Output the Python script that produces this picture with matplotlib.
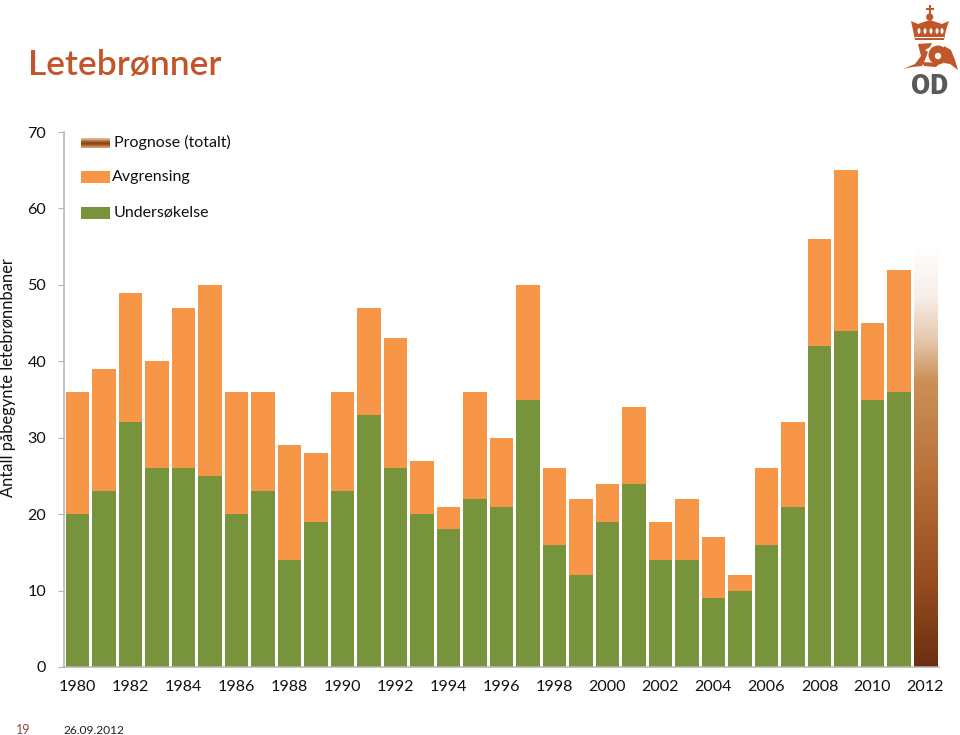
import numpy as np
import matplotlib
matplotlib.use("Agg")
import matplotlib.pyplot as plt
from matplotlib.colors import LinearSegmentedColormap
from matplotlib.patches import Rectangle, Polygon, Circle, Ellipse

years = list(range(1980, 2013))
undersokelse = [20, 23, 32, 26, 26, 25, 20, 23, 14, 19, 23, 33, 26, 20, 18, 22, 21,
                35, 16, 12, 19, 24, 14, 14, 9, 10, 16, 21, 42, 44, 35, 36, 0]
total = [36, 39, 49, 40, 47, 50, 36, 36, 29, 28, 36, 47, 43, 27, 21, 36, 30,
         50, 26, 22, 24, 34, 19, 22, 17, 12, 26, 32, 56, 65, 45, 52, 0]
avgrensing = [t - u for t, u in zip(total, undersokelse)]
prognose = [0] * 32 + [55]
series_names = ["Prognose (totalt)", "Avgrensing", "Undersøkelse"]
yticks = [0, 10, 20, 30, 40, 50, 60, 70]

GREEN = "#77933c"
ORANGE = "#f79646"
RUST = "#c0562a"
plt.rcParams["font.family"] = ["Lato", "DejaVu Sans"]
W, H = 960, 735
fig = plt.figure(figsize=(9.6, 7.35), dpi=100)
grad = LinearSegmentedColormap.from_list("g", [(0, "#6b2f10"), (0.2, "#964c20"), (0.45, "#b87038"),
                                               (0.68, "#cc9058"), (0.78, "#e6c8ae"), (0.88, "#f7eee8"), (1, "#ffffff")])
L, R, T, B = 64.25, 938.75, 132, 667
ax = fig.add_axes([L / W, 1 - B / H, (R - L) / W, (B - T) / H])
x = np.arange(len(years))
bw = 0.87
ax.bar(x, undersokelse, bw, color=GREEN)
ax.bar(x, avgrensing, bw, bottom=undersokelse, color=ORANGE)
pb = ax.bar(x, prognose, bw, color="none")
last = pb[-1]
im = ax.imshow(np.linspace(0, 1, 256)[:, None], cmap=grad, origin="lower", aspect="auto",
               extent=[last.get_x(), last.get_x() + last.get_width(), 0, last.get_height()], zorder=2)
ax.set_xlim(-0.5, 32.5)
ax.set_ylim(0, 70)
for s in ("top", "right"):
    ax.spines[s].set_visible(False)
for s in ("left", "bottom"):
    ax.spines[s].set_color("#b4b4b4")
    ax.spines[s].set_linewidth(1.1)
ax.set_yticks(yticks)
ax.tick_params(axis="y", length=4, color="#b4b4b4", labelsize=11.6, pad=9, labelcolor="#111111")
ax.set_xticks(x[::2], [str(y) for y in years[::2]])
ax.tick_params(axis="x", length=0, labelsize=11.6, pad=9.5, labelcolor="#111111")

def ftext(px, py, s, **k):
    fig.text(px / W, 1 - py / H, s, **k)

ftext(28, 65, "Letebrønner", fontsize=25.5, fontweight="semibold", color=RUST, va="center")
ftext(8, 378, "Antall påbegynte letebrønnbaner", fontsize=11.9, rotation=90, va="center", ha="center", color="#111111")
ftext(16, 730, "19", fontsize=9, color="#8b4a3c", va="center")
ftext(63, 730, "26.09.2012", fontsize=8.6, color="#222222", va="center")

# legend
lax = fig.add_axes([0, 0, 1, 1], facecolor="none")
lax.set_xlim(0, W)
lax.set_ylim(H, 0)
lax.axis("off")
lax.imshow(np.array([0.75, 0.45, 0.12, 0.3, 0.7])[:, None], cmap=grad, aspect="auto",
           extent=[81, 110, 148, 138], interpolation="bilinear", vmin=0, vmax=1)
lax.add_patch(Rectangle((81, 171), 29, 12, color=ORANGE, lw=0))
lax.add_patch(Rectangle((81, 207), 29, 12, color=GREEN, lw=0))
for tx, ty, name in zip((113.5, 111.5, 113.5), (142, 177, 212), series_names):
    lax.text(tx, ty, name, fontsize=11.5, va="center", color="#111111")
lax.set_xlim(0, W)
lax.set_ylim(H, 0)

# logo
c = RUST
lax.add_patch(Rectangle((928.5, 5), 2.5, 10, color=c, lw=0))
lax.add_patch(Rectangle((926, 8), 7.5, 2, color=c, lw=0))
lax.add_patch(Circle((929.7, 17), 3.6, color=c, lw=0))
lax.add_patch(Polygon([(911, 21), (918, 24), (930, 20), (942, 24), (949, 21), (946, 30), (944, 40), (915, 40), (913, 30)], color=c, lw=0))
for px in (919, 925, 931, 937, 942):
    lax.add_patch(Ellipse((px, 31), 3, 5.5, color="white", lw=0))
lax.add_patch(Rectangle((915, 36.5), 29, 1, color="white", lw=0))
# serpent: neck and head
lax.add_patch(Polygon([(903, 69), (915, 64), (921, 56), (918, 44), (932, 43), (930, 47), (925, 50), (928, 52),
                       (925, 60), (922, 66), (912, 67)], color=c, lw=0))
# serpent: coil and tail
lax.add_patch(Circle((938, 55), 9.5, color=c, lw=0))
lax.add_patch(Circle((938, 56), 3.2, color="white", lw=0))
lax.add_patch(Polygon([(944, 46), (951, 50), (955, 60), (958, 70), (950, 64), (944, 63)], color=c, lw=0))
lax.add_patch(Polygon([(922, 62), (940, 63), (936, 67), (924, 66)], color=c, lw=0))
lax.text(929.5, 86.5, "OD", fontsize=20, fontweight="black", color="#58595b", ha="center", va="center", family=["Roboto", "DejaVu Sans"])

fig.savefig("out.png", dpi=100)
